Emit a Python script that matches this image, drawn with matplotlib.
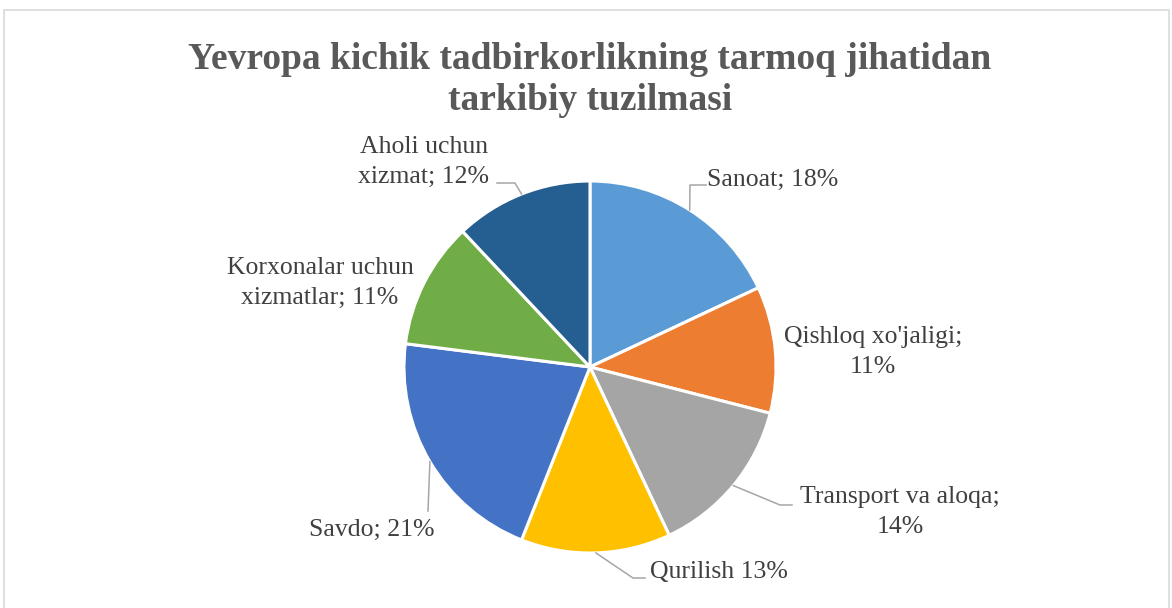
import numpy as np
import matplotlib.pyplot as plt
from matplotlib.patches import Rectangle

plt.rcParams['font.family'] = ['Liberation Serif', 'DejaVu Serif']

# data
sectors = ["Sanoat", "Qishloq xo'jaligi", "Transport va aloqa", "Qurilish",
           "Savdo", "Korxonalar uchun xizmatlar", "Aholi uchun xizmat"]
shares = [18, 11, 14, 13, 21, 11, 12]
label_texts = ["Sanoat; 18%", "Qishloq xo'jaligi;\n11%", "Transport va aloqa;\n14%",
               "Qurilish 13%", "Savdo; 21%", "Korxonalar uchun\nxizmatlar; 11%",
               "Aholi uchun\nxizmat; 12%"]
colors = ["#5B9BD5", "#ED7D31", "#A5A5A5", "#FFC000", "#4472C4", "#70AD47", "#255E91"]
title = "Yevropa kichik tadbirkorlikning tarmoq jihatidan\ntarkibiy tuzilmasi"

W, H = 1172, 608
fig = plt.figure(figsize=(W / 100, H / 100), dpi=100)
ax = fig.add_axes([0, 0, 1, 1])

# work in pixel coords, y measured from the top
def py(y):
    return H - y

cx, cy, r = 590, 367, 186
wedges, _ = ax.pie(shares, colors=colors, startangle=90, counterclock=False,
                   center=(cx, py(cy)), radius=r,
                   wedgeprops=dict(edgecolor='white', linewidth=2.2))
ax.set_xlim(0, W)
ax.set_ylim(0, H)
ax.axis('off')

# label positions (centre of text block) and leader elbows, pixel coords
label_pos = [(773, 180), (873, 352), (900, 512), (719, 572), (372, 530), (320, 283), (424, 162)]
elbows = [[(690, 185), (706, 185)],
          None,
          [(780, 505), (792, 505)],
          [(633, 578), (645, 578)],
          [(428, 511)],
          None,
          [(515, 183), (497, 183)]]

for w, txt, pos, elb in zip(wedges, label_texts, label_pos, elbows):
    ax.text(pos[0], py(pos[1]), txt, ha='center', va='center', fontsize=18.5,
            color='#404040', linespacing=1.5)
    if elb is None:
        continue
    mid = np.deg2rad((w.theta1 + w.theta2) / 2)
    ex, ey = w.center[0] + r * np.cos(mid), w.center[1] + r * np.sin(mid)
    xs = [ex] + [p[0] for p in elb]
    ys = [ey] + [py(p[1]) for p in elb]
    ax.plot(xs, ys, color='#A6A6A6', lw=1.1)

ax.text(590, py(80), title, ha='center', va='center', fontsize=27,
        fontweight='bold', color='#595959', linespacing=1.2)

# chart border
ax.add_patch(Rectangle((3.5, -5), 1165, py(10) + 5, fill=False,
                       edgecolor='#D9D9D9', lw=1.2, clip_on=False))

fig.savefig('out.png', dpi=100)
